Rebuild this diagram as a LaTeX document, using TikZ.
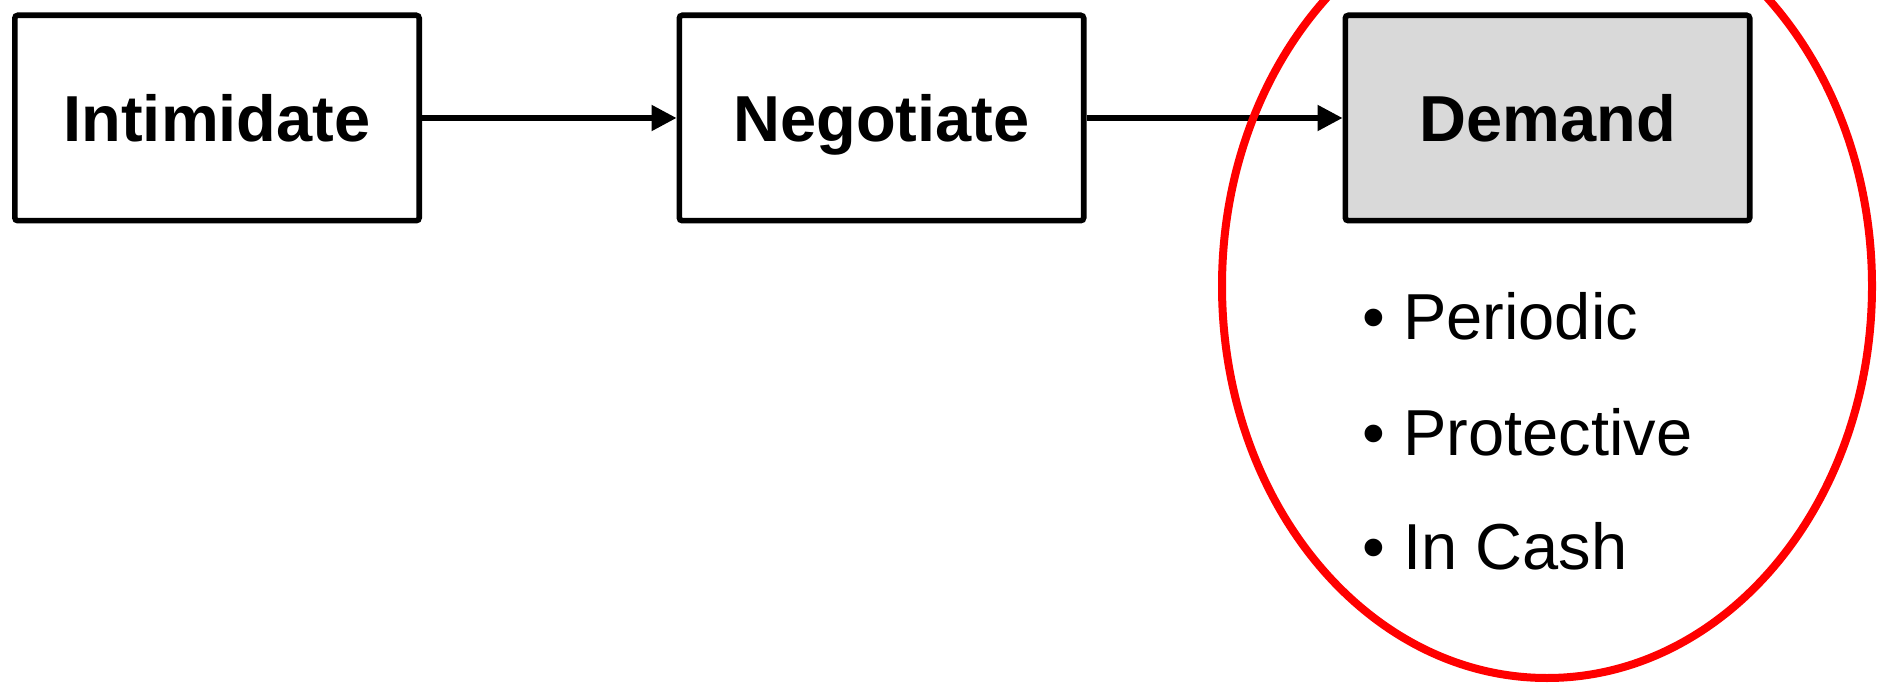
\documentclass[tikz,border=0pt]{standalone}
\usepackage{fontspec}
\setmainfont{Liberation Sans}
\usetikzlibrary{arrows.meta}
\definecolor{boxgray}{HTML}{D9D9D9}
\definecolor{ringred}{HTML}{FF0000}
\begin{document}
\begin{tikzpicture}[x=0.5pt,y=-0.5pt,
  stage/.style={draw=black, line width=2.8pt, rounded corners=1.5pt,
    minimum width=202.2pt, minimum height=102.7pt, inner sep=0pt,
    text height=23.3pt, text depth=0pt,
    font=\fontsize{32.5}{39}\selectfont\bfseries},
  flow/.style={line width=2.6pt, -{Triangle[length=12.5pt,width=12.5pt]}},
  item/.style={anchor=base west, inner sep=0pt,
    font=\fontsize{32.5}{39}\selectfont},
  ring/.style={draw=ringred, line width=4pt}]
\useasboundingbox (0,0) rectangle (1879,684);
\clip (0,0) rectangle (1879,684);

% the three stages
\node[stage] (intim) at (217,118) {Intimidate};
\node[stage] (negot) at (881.5,118) {Negotiate};
\node[stage, fill=boxgray] (demand) at (1547.5,118) {Demand};

\draw[flow] (intim.east) -- (negot.west);
\draw[flow] (negot.east) -- (demand.west);

% forms of the demand
\node[item] (periodic) at (1362,339) {\textbullet\ Periodic};
\node[item] (protective) at (1362,455) {\textbullet\ Protective};
\node[item] (cash) at (1362,569) {\textbullet\ In Cash};

% highlight ring around the last stage
\draw[ring] (1547,286) ellipse [x radius=162.5pt, y radius=196pt];
\end{tikzpicture}
\end{document}
